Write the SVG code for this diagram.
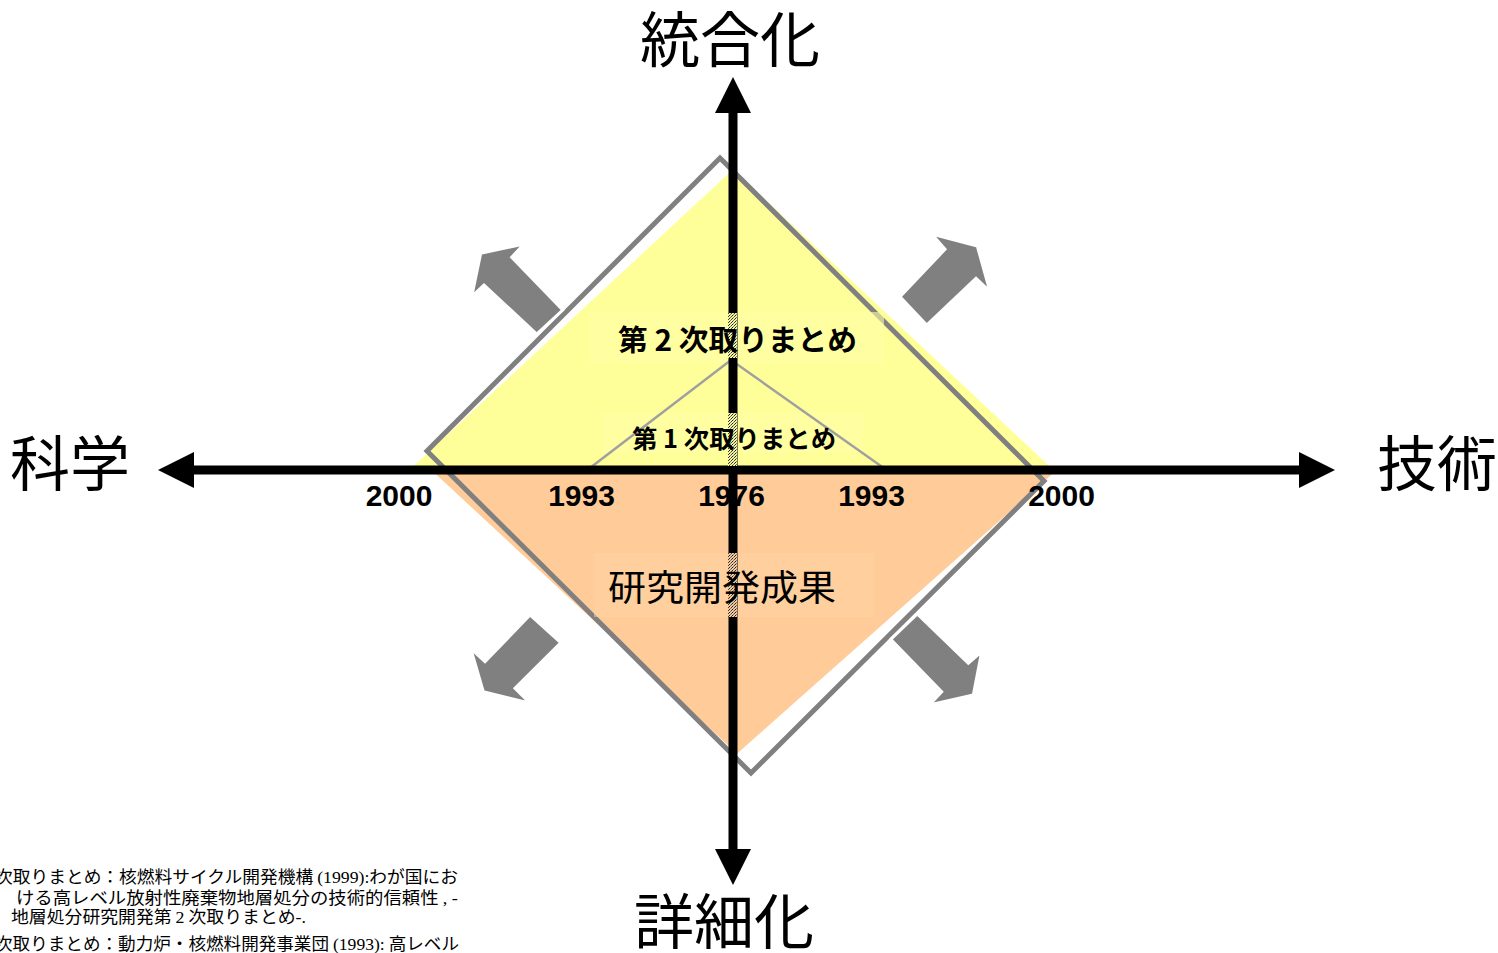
<svg xmlns="http://www.w3.org/2000/svg" width="1498" height="953" viewBox="0 0 1498 953">
<style>
.jp{font-family:"Noto Sans CJK JP","Noto Sans",sans-serif;fill:#000}
.axislbl{font-size:60px}
.yr{font-family:"Liberation Sans",Arial,sans-serif;font-weight:bold;font-size:30px;text-anchor:middle;fill:#000}
.lat{font-family:"Liberation Serif","Times New Roman",serif}
.blk{fill:#808080;stroke:#fff;stroke-width:3;stroke-linejoin:miter}
.axis{stroke:#000;stroke-width:9;fill:none}
.note{font-size:17px}
</style>
<defs>
<pattern id="ditY" width="3" height="3" patternUnits="userSpaceOnUse">
<rect width="3" height="3" fill="#F4F49A"/>
<rect x="0" y="0" width="1" height="1" fill="#222"/>
<rect x="2" y="1" width="1" height="1" fill="#444"/>
<rect x="1" y="2" width="1" height="1" fill="#777"/>
</pattern>
<pattern id="ditO" width="3" height="3" patternUnits="userSpaceOnUse">
<rect width="3" height="3" fill="#F4C896"/>
<rect x="0" y="0" width="1" height="1" fill="#222"/>
<rect x="2" y="1" width="1" height="1" fill="#444"/>
<rect x="1" y="2" width="1" height="1" fill="#777"/>
</pattern>
</defs>
<rect width="1498" height="953" fill="#fff"/>

<g id="shapes">
<polygon id="yellow" points="733,168 408,470 1055,470" fill="#FFFF99" stroke="#fff" stroke-width="2"/>
<polygon id="orange" points="432,472 1056,472 737,755" fill="#FFCC99" stroke="#fff" stroke-width="2"/>
<polygon id="diamond" points="720,158 1044,481 751,773 427,451" fill="none" stroke="#808080" stroke-width="5"/>
<rect x="590" y="312" width="294" height="51" fill="#FFFFA6" opacity="0.6"/>
<rect x="602" y="413" width="261" height="40" fill="#FFFFA6" opacity="0.6"/>
<rect x="594" y="553" width="280" height="64" fill="#FFD2A4" opacity="0.5"/>
<polyline id="first" points="586,471 731,360 888,471" fill="none" stroke="#A0A0A0" stroke-width="2.5"/>
</g>

<g id="connectors">
<line class="axis" x1="733" y1="110" x2="733" y2="852"/>
<polygon points="733,77 715,113 751,113" fill="#000"/>
<polygon points="733,885 715,849 751,849" fill="#000"/>
<line class="axis" x1="192" y1="470" x2="1300" y2="470"/>
<polygon points="158,470 194,452 194,488" fill="#000"/>
<polygon points="1335,470 1299,452 1299,488" fill="#000"/>
<rect x="728" y="313" width="9" height="45" fill="url(#ditY)"/>
<rect x="728" y="413" width="9" height="53" fill="url(#ditY)"/>
<rect x="728" y="553" width="9" height="64" fill="url(#ditO)"/>
</g>

<g id="arrows">
<polygon class="blk" points="480.7,253.3 471.7,296.7 484,285 536.7,334 562.7,310 511.7,257.3 524,244"/>
<polygon class="blk" points="900,296.7 945,249.3 931.7,234 977.3,246 990,291.7 976,278.3 926.7,325"/>
<polygon class="blk" points="530,615 560.7,642.7 515,688.3 530,703.3 483.3,691.7 470.7,648.3 485,661.7"/>
<polygon class="blk" points="890.7,639.3 917.3,614 968.3,663.3 981.7,651.7 973.3,695 929.3,705 941.7,691.7"/>
</g>

<g id="axis-labels">
<text id="top" class="jp axislbl" x="730" y="62" text-anchor="middle">統合化</text>
<text id="bottom" class="jp axislbl" x="724" y="944" text-anchor="middle">詳細化</text>
<text id="left" class="jp axislbl" x="70" y="486" text-anchor="middle">科学</text>
<text id="right" class="jp axislbl" x="1437" y="486" text-anchor="middle">技術</text>
</g>

<g id="labels">
<text id="second" class="jp" x="618" y="351" font-size="29" font-weight="bold" textLength="239" lengthAdjust="spacingAndGlyphs">第 2 次取りまとめ</text>
<text id="firstlbl" class="jp" x="632" y="448" font-size="25" font-weight="bold" textLength="204" lengthAdjust="spacingAndGlyphs">第 1 次取りまとめ</text>
<text id="result" class="jp" x="608" y="601" font-size="36" textLength="228" lengthAdjust="spacingAndGlyphs">研究開発成果</text>
</g>

<g id="years">
<text class="yr" x="399" y="506">2000</text>
<text class="yr" x="581.5" y="506">1993</text>
<text class="yr" x="731.5" y="506">1976</text>
<text class="yr" x="871.5" y="506">1993</text>
<text class="yr" x="1061.5" y="506">2000</text>
</g>

<g id="notes" class="jp note">
<text x="-5" y="883" textLength="463" lengthAdjust="spacingAndGlyphs">次取りまとめ：核燃料サイクル開発機構 <tspan class="lat">(1999):</tspan>わが国にお</text>
<text x="16" y="904" textLength="442" lengthAdjust="spacingAndGlyphs">ける高レベル放射性廃棄物地層処分の技術的信頼性 <tspan class="lat">, -</tspan></text>
<text x="11" y="923" textLength="295" lengthAdjust="spacingAndGlyphs">地層処分研究開発第 <tspan class="lat">2</tspan> 次取りまとめ<tspan class="lat">-.</tspan></text>
<text x="-5" y="950" textLength="464" lengthAdjust="spacingAndGlyphs">次取りまとめ：動力炉・核燃料開発事業団 <tspan class="lat">(1993):</tspan> 高レベル</text>
</g>
</svg>
